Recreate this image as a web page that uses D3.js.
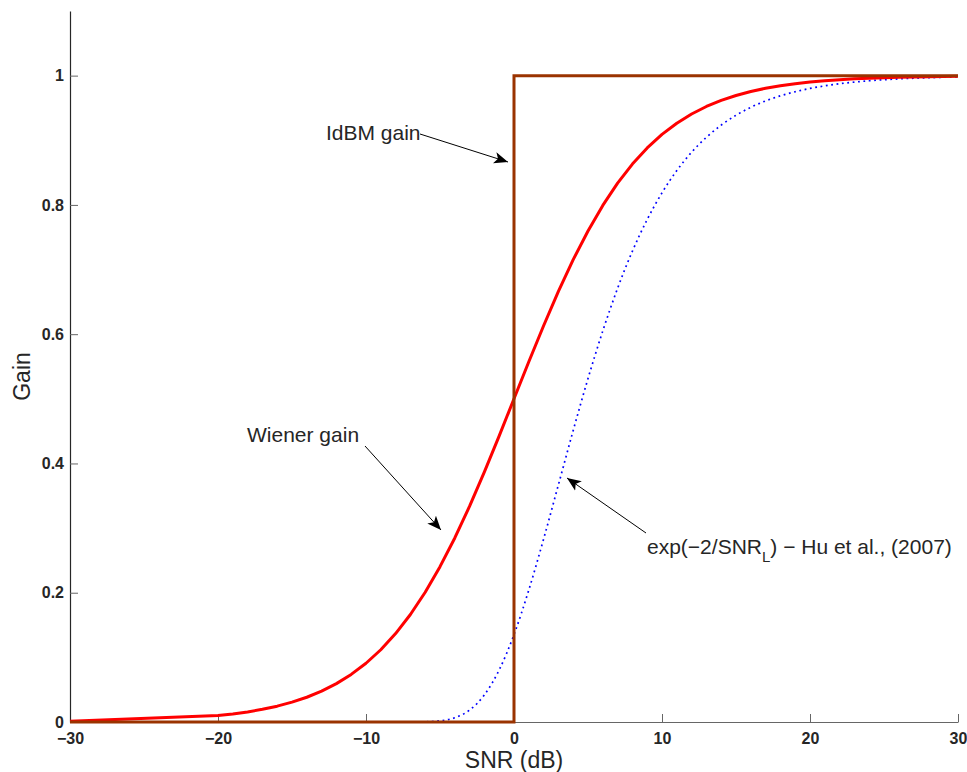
<!DOCTYPE html>
<html>
<head>
<meta charset="utf-8">
<script src="https://cdn.jsdelivr.net/npm/d3@7"></script>
<style>
  body { margin: 0; background: #fff; }
  svg { display: block; }
  text { font-family: "Liberation Sans", Arial, Helvetica, sans-serif; fill: #262626; }
</style>
</head>
<body>
<svg id="chart" width="967" height="772"></svg>
<script>
// ---------------- data ----------------
const snrDb = [-30, -20, -19, -18, -17, -16, -15, -14, -13, -12, -11, -10, -9, -8, -7, -6, -5, -4, -3, -2, -1,
  0, 1, 2, 3, 4, 5, 6, 7, 8, 9, 10, 11, 12, 13, 14, 15, 16, 17, 18, 19, 20,
  21, 22, 23, 24, 25, 26, 27, 28, 29, 30];
const wienerGain = [0.001, 0.0099, 0.0124, 0.0156, 0.0196, 0.0245, 0.0307, 0.0383, 0.0477, 0.0594, 0.0736,
  0.0909, 0.1118, 0.1368, 0.1663, 0.2008, 0.2403, 0.2847, 0.3339, 0.3869, 0.4427,
  0.5, 0.5573, 0.6131, 0.6661, 0.7153, 0.7597, 0.7992, 0.8337, 0.8632, 0.8882, 0.9091,
  0.9264, 0.9406, 0.9523, 0.9617, 0.9693, 0.9755, 0.9804, 0.9844, 0.9876, 0.9901,
  0.9921, 0.9937, 0.9950, 0.9960, 0.9968, 0.9975, 0.9980, 0.9984, 0.9987, 0.9990];
const huGain = [0, 0, 0, 0, 0, 0, 0, 0, 0, 0, 0,
  0, 0, 0, 0.00002, 0.00035, 0.0018, 0.0066, 0.0185, 0.042, 0.0806,
  0.1353, 0.2042, 0.2831, 0.3670, 0.4510, 0.5313, 0.6051, 0.6710, 0.7284, 0.7774, 0.8187,
  0.8531, 0.8815, 0.9046, 0.9235, 0.9387, 0.9510, 0.9609, 0.9688, 0.9751, 0.9802,
  0.9842, 0.9875, 0.9900, 0.9921, 0.9937, 0.9950, 0.9960, 0.9968, 0.9975, 0.9980];
const idbmX = [-30, 0, 0, 30];
const idbmGain = [0, 0, 1, 1];
const xTicks = [-30, -20, -10, 0, 10, 20, 30];
const yTicks = [0, 0.2, 0.4, 0.6, 0.8, 1];
const xLabel = "SNR (dB)";
const yLabel = "Gain";
const annotations = [
  { text: "IdBM gain", tx: 326, ty: 140, x1: 420, y1: 134, x2: 508, y2: 162 },
  { text: "Wiener gain", tx: 247, ty: 442, x1: 365, y1: 446, x2: 441, y2: 530 },
  { text: "hu", tx: 647, ty: 554, x1: 646, y1: 533, x2: 567, y2: 478 }
];

// ---------------- layout ----------------
const svg = d3.select("#chart");
const L = 70, R = 958, T = 11, B = 722;
const x = d3.scaleLinear().domain([-30, 30]).range([L, R]);
const y = d3.scaleLinear().domain([0, 1.1]).range([B, T]);
const fmt = d => (d < 0 ? "\u2212" + Math.abs(d) : String(d));

// axes
const gx = svg.append("g").attr("transform", `translate(0,${B})`)
  .call(d3.axisBottom(x).tickValues(xTicks).tickSizeInner(-8).tickSizeOuter(0).tickPadding(11).tickFormat(fmt));
gx.select(".domain").attr("stroke", "#666").attr("stroke-width", 1);
gx.selectAll(".tick line").attr("stroke", "#666");
gx.selectAll(".tick text").style("font-size", "16px").style("font-weight", "bold").attr("fill", "#262626")
  .style("font-family", "'Liberation Sans', Arial, sans-serif");

const gy = svg.append("g").attr("transform", `translate(${L},0)`)
  .call(d3.axisLeft(y).tickValues(yTicks).tickSizeInner(-8).tickSizeOuter(0).tickPadding(6).tickFormat(d => String(d)));
gy.select(".domain").attr("stroke", "#262626").attr("stroke-width", 1.2);
gy.selectAll(".tick line").attr("stroke", "#666");
gy.selectAll(".tick text").style("font-size", "16px").style("font-weight", "bold").attr("fill", "#262626")
  .style("font-family", "'Liberation Sans', Arial, sans-serif");

// axis labels
svg.append("text").attr("x", (L + R) / 2).attr("y", 768).attr("text-anchor", "middle")
  .style("font-size", "23px").text(xLabel);
svg.append("text").attr("transform", `translate(30,${(y(0) + y(1.1)) / 2 + 10}) rotate(-90)`)
  .attr("text-anchor", "middle").style("font-size", "23px").text(yLabel);

// lines
const line = d3.line().x(d => x(d[0])).y(d => y(d[1]));
const smooth = d3.line().x(d => x(d[0])).y(d => y(d[1])).curve(d3.curveMonotoneX);

svg.append("path").datum(snrDb.map((d, i) => [d, huGain[i]]))
  .attr("d", smooth).attr("fill", "none").attr("stroke", "#0000ff")
  .attr("stroke-width", 1.7).attr("stroke-dasharray", "1.8,3.6");

svg.append("path").datum(snrDb.map((d, i) => [d, wienerGain[i]]))
  .attr("d", line).attr("fill", "none").attr("stroke", "#ff0000")
  .attr("stroke-width", 3).attr("stroke-linejoin", "round");

svg.append("path").datum(idbmX.map((d, i) => [d, idbmGain[i]]))
  .attr("d", line).attr("fill", "none").attr("stroke", "#9a3300")
  .attr("stroke-width", 3);

// arrow marker
svg.append("defs").append("marker").attr("id", "arr")
  .attr("viewBox", "0 0 12 10").attr("refX", 12).attr("refY", 5)
  .attr("markerWidth", 14).attr("markerHeight", 12).attr("markerUnits", "userSpaceOnUse")
  .attr("orient", "auto")
  .append("path").attr("d", "M0,0 L12,5 L0,10 L3,5 Z").attr("fill", "#000");

// annotations
annotations.forEach(a => {
  svg.append("line").attr("x1", a.x1).attr("y1", a.y1).attr("x2", a.x2).attr("y2", a.y2)
    .attr("stroke", "#000").attr("stroke-width", 1).attr("marker-end", "url(#arr)");
  const t = svg.append("text").attr("x", a.tx).attr("y", a.ty).style("font-size", "21px");
  if (a.text === "hu") {
    t.append("tspan").text("exp(\u22122/SNR");
    t.append("tspan").attr("dy", 8).style("font-size", "15px").text("L");
    t.append("tspan").attr("dy", -8).text(") \u2212 Hu et al., (2007)");
  } else {
    t.text(a.text);
  }
});
</script>
</body>
</html>
